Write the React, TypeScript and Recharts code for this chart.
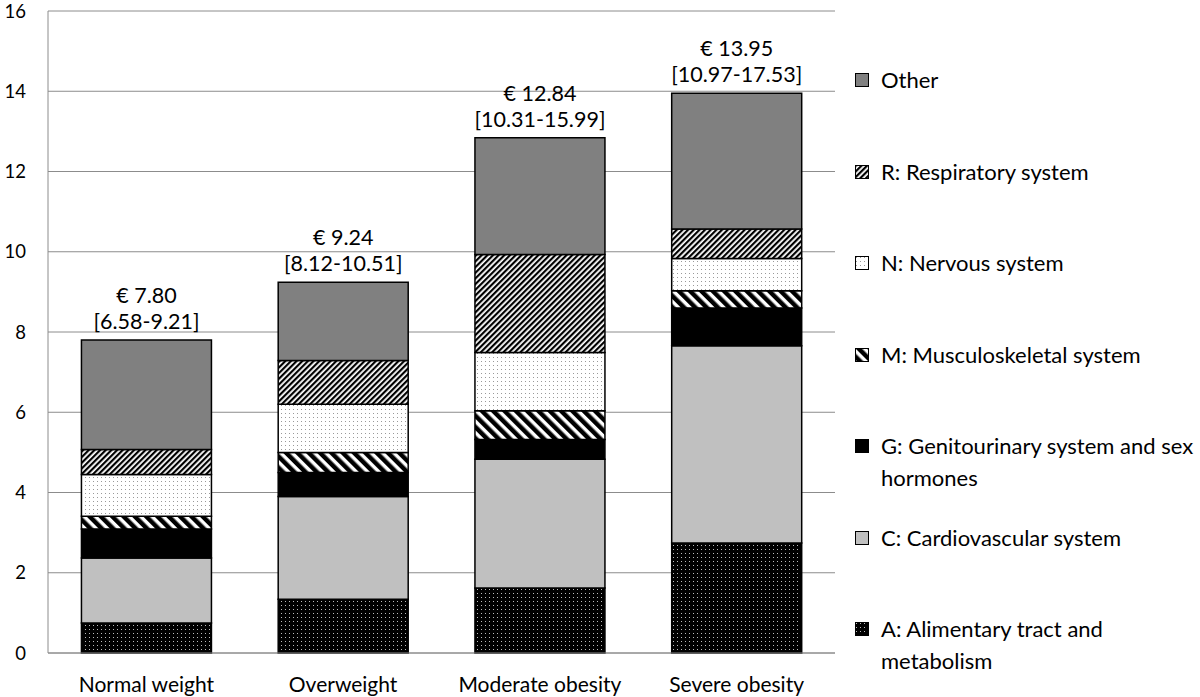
import { BarChart, Bar, XAxis, YAxis, CartesianGrid, Legend, LabelList } from 'recharts';

const categories = ['Normal weight', 'Overweight', 'Moderate obesity', 'Severe obesity'];
const alimentary = [0.75, 1.34, 1.62, 2.74];
const cardiovascular = [1.62, 2.56, 3.21, 4.92];
const genitourinary = [0.72, 0.6, 0.49, 0.94];
const musculoskeletal = [0.32, 0.5, 0.72, 0.43];
const nervous = [1.04, 1.2, 1.45, 0.8];
const respiratory = [0.62, 1.09, 2.44, 0.74];
const other = [2.73, 1.95, 2.91, 3.38];
const totals = ['€ 7.80', '€ 9.24', '€ 12.84', '€ 13.95'];
const intervals = ['[6.58-9.21]', '[8.12-10.51]', '[10.31-15.99]', '[10.97-17.53]'];
const yTicks = [0, 2, 4, 6, 8, 10, 12, 14, 16];

const FONT = 'Lato, "Open Sans", sans-serif';
const LEGEND_W = 345;

// bottom to top
const SERIES = [
  { key: 'A', name: 'A: Alimentary tract and metabolism', fill: 'url(#dotsBlack)' },
  { key: 'C', name: 'C: Cardiovascular system', fill: '#c0c0c0' },
  { key: 'G', name: 'G: Genitourinary system and sex hormones', fill: '#000000' },
  { key: 'M', name: 'M: Musculoskeletal system', fill: 'url(#wideDiag)' },
  { key: 'N', name: 'N: Nervous system', fill: 'url(#dotsWhite)' },
  { key: 'R', name: 'R: Respiratory system', fill: 'url(#fineDiag)' },
  { key: 'O', name: 'Other', fill: '#808080' },
];

const data = categories.map((name, i) => ({
  name,
  A: alimentary[i],
  C: cardiovascular[i],
  G: genitourinary[i],
  M: musculoskeletal[i],
  N: nervous[i],
  R: respiratory[i],
  O: other[i],
  total: totals[i],
}));

const TopLabel = (props: any) => {
  const { x, y, width, index } = props;
  const cx = x + width / 2;
  return (
    <g>
      <text x={cx} y={y - 45} textAnchor="middle" dominantBaseline="central" fontSize={21.5} fill="#000" fontFamily={FONT}>
        {totals[index]}
      </text>
      <text x={cx} y={y - 19} textAnchor="middle" dominantBaseline="central" fontSize={21.5} fill="#000" fontFamily={FONT}>
        {intervals[index]}
      </text>
    </g>
  );
};

const LegendBox = () => (
  <div style={{ fontFamily: FONT, fontSize: 22, color: '#000', width: LEGEND_W }}>
    {[...SERIES].reverse().map((s) => (
      <div key={s.key} style={{ height: 91.5, display: 'flex', alignItems: 'flex-start' }}>
        <svg width={14} height={14} style={{ marginTop: 9, marginRight: 12, flex: 'none' }}>
          <rect x={0.5} y={0.5} width={13} height={13} fill={s.fill} stroke="#000" strokeWidth={1} />
        </svg>
        <div style={{ lineHeight: '32px', width: 319 }}>{s.name}</div>
      </div>
    ))}
  </div>
);

export default function App() {
  return (
    <div style={{ position: 'absolute', left: 0, top: 0, width: 1200, height: 697, background: '#fff' }}>
      <BarChart
        width={1200}
        height={697}
        data={data}
        margin={{ top: 11, right: 365 - LEGEND_W, left: 0, bottom: 0 }}
        barCategoryGap="17%"
      >
        <defs>
          <pattern id="dotsBlack" width={4} height={4} patternUnits="userSpaceOnUse">
            <rect width={4} height={4} fill="#000" />
            <rect x={1} y={1} width={1} height={1} fill="#bbb" />
          </pattern>
          <pattern id="dotsWhite" width={4} height={4} patternUnits="userSpaceOnUse">
            <rect width={4} height={4} fill="#fff" />
            <rect x={1} y={1} width={1} height={1} fill="#999" />
          </pattern>
          <pattern id="fineDiag" width={4} height={4} patternUnits="userSpaceOnUse" patternTransform="rotate(45)">
            <rect width={4} height={4} fill="#fff" />
            <rect width={2.2} height={4} fill="#000" />
          </pattern>
          <pattern id="wideDiag" width={8} height={8} patternUnits="userSpaceOnUse" patternTransform="rotate(-45)">
            <rect width={8} height={8} fill="#fff" />
            <rect width={4.5} height={8} fill="#000" />
          </pattern>
        </defs>
        <CartesianGrid vertical={false} stroke="#8c8c8c" strokeWidth={1} />
        <XAxis
          dataKey="name"
          height={44}
          axisLine={{ stroke: '#8c8c8c' }}
          tickLine={false}
          tickSize={0}
          tickMargin={24}
          interval={0}
          tick={{ fontSize: 21, fill: '#000', fontFamily: FONT }}
        />
        <YAxis
          width={48}
          domain={[0, 16]}
          ticks={yTicks}
          interval={0}
          axisLine={{ stroke: '#8c8c8c' }}
          tickLine={false}
          tickSize={0}
          tickMargin={22}
          tick={{ fontSize: 18.5, fill: '#000', fontFamily: FONT }}
        />
        <Legend
          layout="vertical"
          align="right"
          verticalAlign="top"
          content={<LegendBox />}
          wrapperStyle={{ left: 855, top: 64, width: LEGEND_W }}
        />
        {SERIES.map((s) => (
          <Bar
            key={s.key}
            dataKey={s.key}
            name={s.name}
            stackId="cost"
            fill={s.fill}
            stroke="#000"
            strokeWidth={1.5}
            isAnimationActive={false}
          >
            {s.key === 'O' && <LabelList dataKey="total" content={<TopLabel />} />}
          </Bar>
        ))}
      </BarChart>
    </div>
  );
}
